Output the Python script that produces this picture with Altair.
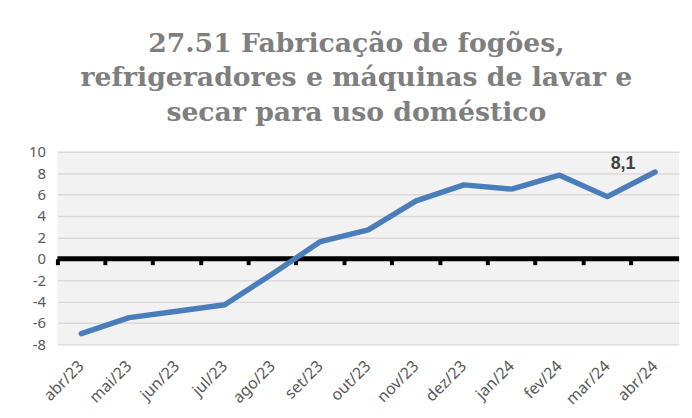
import altair as alt
import pandas as pd

months = ["abr/23", "mai/23", "jun/23", "jul/23", "ago/23", "set/23", "out/23",
          "nov/23", "dez/23", "jan/24", "fev/24", "mar/24", "abr/24"]
values = [-7.0, -5.5, -4.9, -4.3, -1.4, 1.6, 2.7, 5.4, 6.9, 6.5, 7.8, 5.8, 8.1]
label_text = ["", "", "", "", "", "", "", "", "", "", "", "", "8,1"]
y_ticks = [-8, -6, -4, -2, 0, 2, 4, 6, 8, 10]
title_lines = ["27.51 Fabricação de fogões,",
               "refrigeradores e máquinas de lavar e",
               "secar para uso doméstico"]

df = pd.DataFrame({"mes": months, "v": values, "lab": label_text})
zero = pd.DataFrame({"y": [0]})

W, H = 629, 195
ymin, ymax = -8, 10
zero_offset = -H * (0 - ymin) / (ymax - ymin)

xscale = alt.Scale(type="band", domain=months, paddingInner=0, paddingOuter=0)
yscale = alt.Scale(domain=[ymin, ymax], nice=False)
yaxis = alt.Axis(title=None, values=y_ticks, labelFont="Noto Sans",
                 labelExpr="replace(datum.label, '\u2212', '-')",
                 labelFontSize=15, labelColor="#595959", labelPadding=12,
                 domain=False, ticks=False, grid=True, gridColor="#d9d9d9",
                 gridWidth=1.5)

zero_ticks = alt.Chart(df).mark_point(opacity=0).encode(
    x=alt.X("mes:N", scale=xscale, sort=months,
            axis=alt.Axis(title=None, orient="bottom", offset=zero_offset, labels=False,
                          domain=False, ticks=True, tickColor="black", tickWidth=4,
                          tickSize=6, bandPosition=0, grid=False)),
    y=alt.Y("v:Q", scale=yscale, axis=yaxis),
)

zero_rule = alt.Chart(zero).mark_rule(color="black", strokeWidth=5).encode(
    y=alt.Y("y:Q", scale=yscale, axis=yaxis),
)

line = alt.Chart(df).mark_line(color="#4a7ebb", strokeWidth=5.5, strokeCap="round", strokeJoin="round").encode(
    x=alt.X("mes:N", scale=xscale, sort=months, bandPosition=0.5,
            axis=alt.Axis(title=None, orient="bottom", labelAngle=-45, labelAlign="right",
                          labelBaseline="middle",
                          labelFont="Noto Sans", labelFontSize=16, labelColor="#595959",
                          labelPadding=19, domain=False, ticks=False, grid=False)),
    y=alt.Y("v:Q", scale=yscale, axis=yaxis),
)

labels = alt.Chart(df).mark_text(font="Liberation Sans", fontSize=18, fontWeight="bold",
                                 color="#404040", align="right", baseline="alphabetic",
                                 dx=-20, dy=-3).encode(
    x=alt.X("mes:N", scale=xscale, sort=months, bandPosition=0.5, axis=None),
    y=alt.Y("v:Q", scale=yscale, axis=yaxis),
    text="lab:N",
)

chart = alt.layer(zero_ticks, zero_rule, line, labels).resolve_axis(x="independent").properties(
    width=W, height=H,
    background="white",
    title=alt.TitleParams(text=title_lines, font="DejaVu Serif", fontSize=27,
                          fontWeight="bold", color="#7f7f7f", anchor="middle",
                          lineHeight=35, offset=18, dx=-12),
    autosize=alt.AutoSizeParams(type="none"),
    padding={"left": 50, "top": 143, "right": 5, "bottom": 62},
).configure_view(fill="#f2f2f2", stroke=None)

chart.save("out.html", embed_options={"renderer": "svg", "actions": False})
